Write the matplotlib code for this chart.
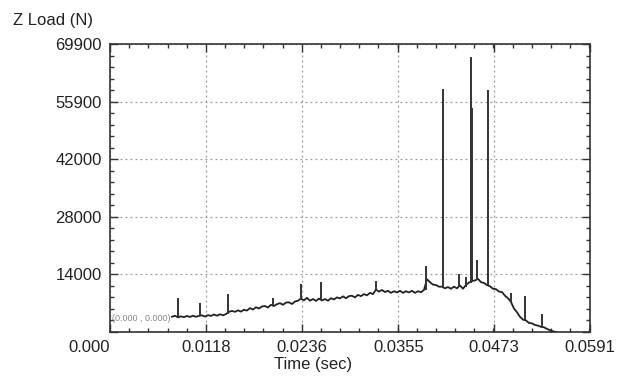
import numpy as np
import matplotlib
matplotlib.use("Agg")
import matplotlib.pyplot as plt
from matplotlib.ticker import AutoMinorLocator

# ---- data ----
trace_start = 0.00763
trace_end = 0.05491
trace_load = [
    3700, 3950, 3550, 3800, 3600, 3900, 3650, 3950, 3700, 3900,
    4050, 3750, 4100, 3900, 4250, 3950, 4300, 4050, 4350, 4900,
    5100, 4900, 5250, 4950, 5400, 5200, 5800, 5450, 6000, 5700,
    6200, 6300, 5950, 6600, 6300, 6750, 7000, 6600, 7150, 7200,
    6800, 7400, 7600, 8100, 7700, 8300, 7600, 8000, 7550, 8100,
    7650, 8000, 7600, 8200, 7900, 8400, 8150, 8650, 8200, 8700,
    8800, 8400, 9000, 8700, 9200, 8900, 9500, 9200, 10300, 9800,
    10200, 9700, 10000, 9500, 9900, 9600, 10000, 9500, 9900, 9600,
    10000, 9500, 9900, 9650, 10200, 12800, 12100, 11500, 11400, 11000,
    11000, 10600, 10900, 10500, 11000, 10600, 11300, 10500, 11400, 12000,
    12400, 12500, 12900, 12100, 11900, 11400, 11100, 10500, 10400, 9800,
    9700, 8800, 8200, 7300, 5700, 4800, 3700, 3000, 2800, 2200,
    2100, 1700, 1550, 1250, 1150, 750, 450, 150, 0,
]

spike_time = [0.00837, 0.01108, 0.01453, 0.02007, 0.02352, 0.02598, 0.03275,
              0.03891, 0.04100, 0.04297, 0.04383, 0.04441, 0.04457, 0.04522,
              0.04658, 0.04937, 0.05110, 0.05319]
spike_peak = [8330, 6960, 9220, 8250, 11650, 12200, 12400,
              16000, 58900, 14000, 13280, 66670, 54290, 17470,
              58730, 9530, 8740, 4290]
spike_base = [3700, 3900, 4400, 6450, 7800, 7800, 10000,
              10100, 10800, 10900, 11000, 12000, 12200, 12700,
              11300, 7300, 2900, 1300]

x_ticks = [0.0, 0.0118, 0.0236, 0.0355, 0.0473, 0.0591]
x_labels = ["0.000", "0.0118", "0.0236", "0.0355", "0.0473", "0.0591"]
y_ticks = [0, 13980, 27960, 41940, 55920, 69900]
y_labels = ["", "14000", "28000", "42000", "55900", "69900"]

# ---- figure ----
plt.rcParams['font.family'] = ['Liberation Sans', 'DejaVu Sans']
W, H = 633, 381
fig = plt.figure(figsize=(W / 100, H / 100), dpi=100)
ax = fig.add_axes([110 / W, 1 - 332 / H, 480 / W, 288 / H])

t = np.linspace(trace_start, trace_end, len(trace_load))
ax.plot(t, trace_load, color="#222222", lw=1.3, zorder=3)
ax.vlines(spike_time, spike_base, spike_peak, color="#333333", lw=1.4, zorder=3)

ax.set_xlim(x_ticks[0], x_ticks[-1])
ax.set_ylim(y_ticks[0], y_ticks[-1])
ax.set_xticks(x_ticks)
ax.set_xticklabels(x_labels, fontsize=12)
ax.set_yticks(y_ticks)
ax.set_yticklabels(y_labels, fontsize=12)
ax.get_xticklabels()[0].set_horizontalalignment("right")

ax.xaxis.set_minor_locator(AutoMinorLocator(5))
ax.yaxis.set_minor_locator(AutoMinorLocator(5))
ax.tick_params(which="both", direction="in", top=True, right=True,
               color="#333333", width=1)
ax.tick_params(which="major", length=6, pad=6, labelcolor="#222222")
ax.tick_params(which="minor", length=3)

ax.grid(True, which="major", linestyle=(0, (1.5, 2.5)), color="#999999", lw=0.9)
for s in ax.spines.values():
    s.set_color("#333333")
    s.set_linewidth(1.2)

ax.text(0.004, 0.03, "(0.000 , 0.000)", transform=ax.transAxes,
        fontsize=6.5, color="#888888", ha="left", va="bottom")

fig.text(13 / W, 1 - 21 / H, "Z Load (N)", fontsize=12, color="#222222",
         ha="left", va="center")
fig.text(313 / W, 1 - 365 / H, "Time (sec)", fontsize=12, color="#222222",
         ha="center", va="center")

fig.savefig("out.png", dpi=100, facecolor="white")
